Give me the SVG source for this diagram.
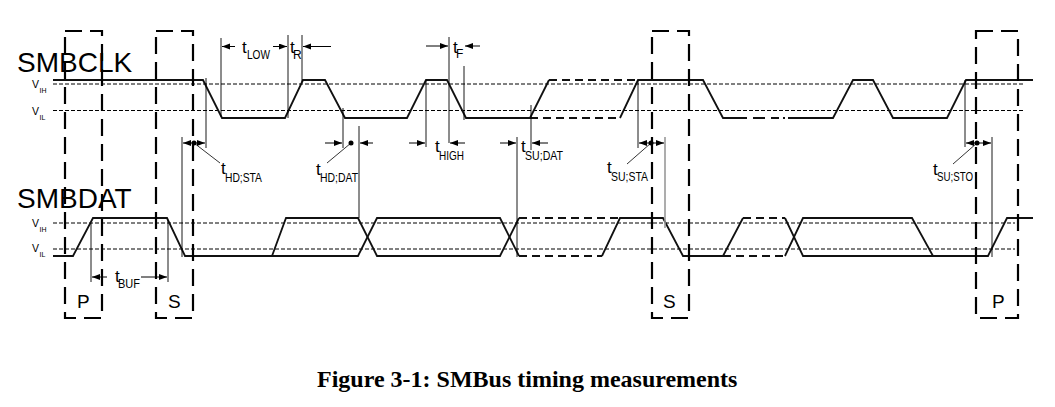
<svg xmlns="http://www.w3.org/2000/svg" width="1055" height="407" viewBox="0 0 1055 407">
<style>
.bg{fill:#fff}
.sig{fill:none;stroke:#111;stroke-width:1.8;stroke-linejoin:miter}
.sigd{fill:none;stroke:#111;stroke-width:1.8;stroke-dasharray:8,5}
.lvl{fill:none;stroke:#000;stroke-width:1;stroke-dasharray:4,2}
.box{fill:none;stroke:#000;stroke-width:2.2;stroke-dasharray:17,8}
.ref{fill:none;stroke:#000;stroke-width:0.9}
.refg{fill:none;stroke:#999;stroke-width:1.6}
.arr{fill:none;stroke:#000;stroke-width:1;marker-end:url(#ah)}
.lead{fill:none;stroke:#000;stroke-width:0.8}
.big{font-family:"Liberation Sans",Arial,sans-serif;font-size:28px;fill:#000}
.t{font-family:"Liberation Sans",Arial,sans-serif;font-size:17px;fill:#000}
.sub{font-family:"Liberation Sans",Arial,sans-serif;font-size:12px;fill:#000}
.v{font-family:"Liberation Sans",Arial,sans-serif;font-size:10.5px;fill:#000}
.vs{font-family:"Liberation Sans",Arial,sans-serif;font-size:7px;fill:#000}
.lab{font-family:"Liberation Sans",Arial,sans-serif;font-size:19px;fill:#000}
.cap{font-family:"Liberation Serif","Times New Roman",serif;font-size:24px;font-weight:bold;fill:#000}
</style>
<defs>
<marker id="ah" markerUnits="userSpaceOnUse" markerWidth="9" markerHeight="7" refX="8" refY="3" orient="auto">
<path d="M0,0 L8,3 L0,6 z" fill="#000"/>
</marker>
</defs>
<rect class="bg" x="0" y="0" width="1055" height="407"/>

<g id="signal-names">
<text class="big" x="17" y="72">SMBCLK</text>
<text class="big" x="17" y="208">SMBDAT</text>
</g>

<g id="levels">
<line class="lvl" x1="53" y1="84" x2="1023" y2="84"/>
<line class="lvl" x1="53" y1="110.5" x2="1023" y2="110.5"/>
<line class="lvl" x1="53" y1="223" x2="1015" y2="223"/>
<line class="lvl" x1="53" y1="249" x2="1015" y2="249"/>
<text class="v" x="32" y="88">V<tspan class="vs" x="39.5" y="92.5">IH</tspan></text>
<text class="v" x="32" y="115">V<tspan class="vs" x="39.5" y="119.5">IL</tspan></text>
<text class="v" x="32" y="227">V<tspan class="vs" x="39.5" y="231.5">IH</tspan></text>
<text class="v" x="32" y="252">V<tspan class="vs" x="39.5" y="256.5">IL</tspan></text>
</g>

<g id="smbclk">
<path class="sig" d="M53,80 L203,80 L222,118 L285,118 L303,80 L325,80 L345,118 L407,118 L426,80 L447,80 L466,118 L530,118 L549,80"/>
<path class="sigd" d="M549,80 L638,80 M530,118 L620,118"/>
<path class="sig" d="M620,118 L638,80 L703,80 L723,118 L747,118 M753,118 L765,118 M771,118 L779,118 M783,118 L785,118 M788,118 L833,118 L853,80 L873,80 L893,118 L947,118 L966,80 L1033,80"/>
</g>

<g id="smbdat">
<path class="sig" d="M53,256 L73,256 L93,218 L167,218 L185,256 L358,256 L377,218 L500,218 L519,256"/>
<path class="sig" d="M272,256 L286,218 L358,218 L377,256 L500,256 L519,218"/>
<path class="sigd" d="M519,218 L620,218 M519,256 L602,256"/>
<path class="sig" d="M602,256 L620,218 L663,218 L683,256 L723,256 L743,218"/>
<path class="sigd" d="M743,218 L785,218 M723,256 L785,256"/>
<path class="sig" d="M785,218 L803,256 L988,256 L1007,218 L1033,218 M785,256 L803,218 L912,218 L933,256"/>
</g>

<g id="box-p1">
<rect class="box" x="65" y="31" width="37" height="287"/>
<text class="lab" x="77" y="308">P</text>
</g>
<g id="box-s1">
<rect class="box" x="156" y="31" width="37" height="287"/>
<text class="lab" x="168" y="308">S</text>
</g>
<g id="box-s2">
<rect class="box" x="652" y="31" width="37" height="287"/>
<text class="lab" x="663" y="308">S</text>
</g>
<g id="box-p2">
<rect class="box" x="976" y="31" width="42" height="287"/>
<text class="lab" x="992" y="308">P</text>
</g>

<g id="connectors">
<line class="ref" x1="182" y1="137" x2="182" y2="257"/>
<line class="ref" x1="206" y1="78" x2="206" y2="148"/>
<line class="ref" x1="221" y1="38" x2="221" y2="117"/>
<line class="ref" x1="288" y1="35" x2="288" y2="118"/>
<line class="ref" x1="302" y1="35" x2="302" y2="82"/>
<line class="ref" x1="343" y1="108" x2="343" y2="148"/>
<line class="ref" x1="359" y1="126" x2="359" y2="218"/>
<line class="ref" x1="426" y1="80" x2="426" y2="147"/>
<line class="ref" x1="449" y1="37" x2="449" y2="143"/>
<line class="ref" x1="464" y1="66" x2="464" y2="120"/>
<line class="ref" x1="517" y1="137" x2="517" y2="257"/>
<line class="ref" x1="531" y1="105" x2="531" y2="150"/>
<line class="ref" x1="638" y1="80" x2="638" y2="148"/>
<line class="refg" x1="665" y1="137" x2="665" y2="228"/>
<line class="ref" x1="965" y1="80" x2="965" y2="147"/>
<line class="ref" x1="992" y1="137" x2="992" y2="257"/>
<line class="ref" x1="91" y1="223" x2="91" y2="282"/>
<line class="ref" x1="168" y1="220" x2="168" y2="282"/>

<line class="arr" x1="235" y1="46.5" x2="222" y2="46.5"/>
<line class="arr" x1="273" y1="46.5" x2="287" y2="46.5"/>
<line class="arr" x1="331" y1="46.5" x2="303" y2="46.5"/>
<line class="arr" x1="426" y1="46" x2="448" y2="46"/>
<line class="arr" x1="480" y1="46" x2="465" y2="46"/>

<line class="arr" x1="194" y1="143" x2="183" y2="143"/>
<line class="arr" x1="194" y1="143" x2="205" y2="143"/>
<circle cx="194" cy="143" r="2.5" fill="#000"/>
<line class="lead" x1="194" y1="143" x2="220" y2="163"/>

<line class="arr" x1="325" y1="143" x2="342" y2="143"/>
<line class="arr" x1="373" y1="143" x2="360" y2="143"/>
<circle cx="351" cy="143" r="2.5" fill="#000"/>
<line class="lead" x1="351" y1="143" x2="327" y2="163"/>

<line class="arr" x1="409" y1="143" x2="425" y2="143"/>
<line class="arr" x1="465" y1="143" x2="450" y2="143"/>

<line class="arr" x1="500" y1="143" x2="516" y2="143"/>
<line class="arr" x1="548" y1="143" x2="532" y2="143"/>

<line class="arr" x1="651" y1="143" x2="639" y2="143"/>
<line class="arr" x1="651" y1="143" x2="664" y2="143"/>
<circle cx="651" cy="143" r="2.5" fill="#000"/>
<line class="lead" x1="651" y1="143" x2="627" y2="164"/>

<line class="arr" x1="977" y1="143" x2="966" y2="143"/>
<line class="arr" x1="977" y1="143" x2="991" y2="143"/>
<circle cx="977" cy="143" r="2.5" fill="#000"/>
<line class="lead" x1="977" y1="143" x2="953" y2="164"/>

<line class="arr" x1="107" y1="277" x2="92" y2="277"/>
<line class="arr" x1="141" y1="277" x2="167" y2="277"/>
</g>

<g id="timing-labels">
<text class="t" x="242" y="53">t</text><text class="sub" x="247" y="58.5" textLength="23" lengthAdjust="spacingAndGlyphs">LOW</text>
<text class="t" x="290" y="53">t</text><text class="sub" x="293" y="58.5">R</text>
<text class="t" x="453" y="53">t</text><text class="sub" x="456" y="58">F</text>
<text class="t" x="221" y="174">t</text><text class="sub" x="225" y="182" textLength="37" lengthAdjust="spacingAndGlyphs">HD;STA</text>
<text class="t" x="316" y="175">t</text><text class="sub" x="320" y="182" textLength="38" lengthAdjust="spacingAndGlyphs">HD;DAT</text>
<text class="t" x="435" y="152">t</text><text class="sub" x="439" y="159.5" textLength="25" lengthAdjust="spacingAndGlyphs">HIGH</text>
<text class="t" x="521" y="152">t</text><text class="sub" x="525" y="159.5" textLength="38" lengthAdjust="spacingAndGlyphs">SU;DAT</text>
<text class="t" x="607" y="173">t</text><text class="sub" x="611" y="181" textLength="37" lengthAdjust="spacingAndGlyphs">SU;STA</text>
<text class="t" x="933" y="175">t</text><text class="sub" x="937" y="181" textLength="36" lengthAdjust="spacingAndGlyphs">SU;STO</text>
<text class="t" x="115" y="282">t</text><text class="sub" x="118" y="288" textLength="22" lengthAdjust="spacingAndGlyphs">BUF</text>
</g>

<g id="caption">
<text class="cap" x="317" y="387">Figure 3-1: SMBus timing measurements</text>
</g>
</svg>
